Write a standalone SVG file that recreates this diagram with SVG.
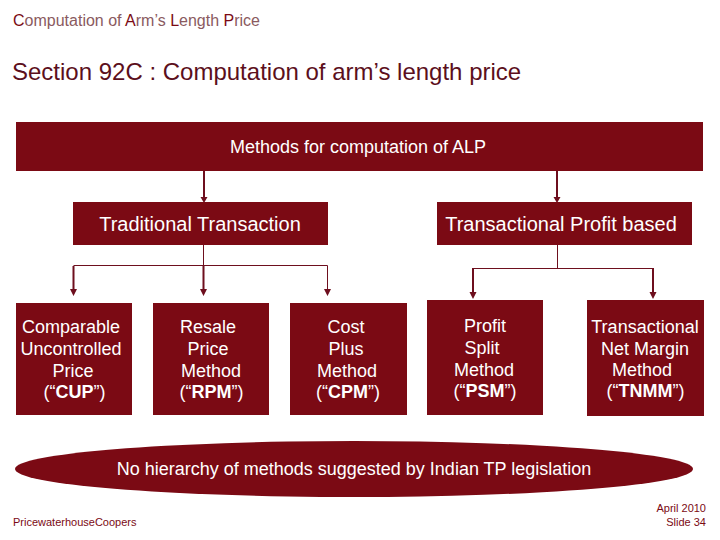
<svg xmlns="http://www.w3.org/2000/svg" width="720" height="540" viewBox="0 0 720 540">
<style>
text{font-family:"Liberation Sans",Arial,sans-serif}
.b{fill:#7b0a14}
.w{fill:#fff;font-size:18px;text-anchor:middle}
.w2{fill:#fff;font-size:20px;text-anchor:middle}
.c{fill:none;stroke:#6e0f1e;stroke-width:1}
.t{fill:none;stroke:#6e0f1e;stroke-width:2}
.h{fill:#6e0f1e}
.k{font-weight:bold}
.cap{fill:#7b0a14}
</style>
<rect width="720" height="540" fill="#fff"/>
<text x="13" y="26" font-size="16" fill="#8a5a60" id="header"><tspan class="cap">C</tspan>omputation of <tspan class="cap">A</tspan>rm’s <tspan class="cap">L</tspan>ength <tspan class="cap">P</tspan>rice</text>
<text x="12" y="80" font-size="24" fill="#5c0f1c" id="title">Section 92C : Computation of arm’s length price</text>
<g id="connectors">
<path class="t" d="M204 171V199M557 171V199M73.500 266V290M203.500 266V290"/>
<path class="c" d="M203.500 245V265.500M73.500 265.500H327.500V293M557.500 245V268M473 268.500H653"/>
<path class="t" d="M473 268V293M653 268V293"/>
<path class="h" d="M200.500 197H207.500L204 203ZM553.500 197H560.500L557 203ZM70 289H77L73.500 296ZM200 289H207L203.500 296ZM324 289H331L327.500 296ZM469.500 292H476.500L473 299ZM649.500 292H656.500L653 299Z"/>
</g>
<g id="root"><rect class="b" x="16" y="122" width="687" height="49"/><text class="w" x="358" y="153">Methods for computation of ALP</text></g>
<g id="traditional"><rect class="b" x="73" y="202" width="255" height="43"/><text class="w2" x="200" y="231">Traditional Transaction</text></g>
<g id="profit"><rect class="b" x="437" y="202" width="255" height="43"/><text class="w2" x="561" y="231">Transactional Profit based</text></g>
<g id="cup"><rect class="b" x="16" y="303" width="116" height="112"/><text class="w" x="71" y="333">Comparable</text><text class="w" x="71" y="355">Uncontrolled</text><text class="w" x="73" y="377">Price</text><text class="w" x="74.500" y="398">(“<tspan class="k">CUP</tspan>”)</text></g>
<g id="rpm"><rect class="b" x="153" y="303" width="116" height="112"/><text class="w" x="208" y="333">Resale</text><text class="w" x="208" y="355">Price</text><text class="w" x="211" y="377">Method</text><text class="w" x="211.500" y="398">(“<tspan class="k">RPM</tspan>”)</text></g>
<g id="cpm"><rect class="b" x="290" y="303" width="117" height="112"/><text class="w" x="346" y="333">Cost</text><text class="w" x="346" y="355">Plus</text><text class="w" x="347" y="377">Method</text><text class="w" x="348" y="398">(“<tspan class="k">CPM</tspan>”)</text></g>
<g id="psm"><rect class="b" x="427" y="300" width="116" height="115"/><text class="w" x="485" y="332">Profit</text><text class="w" x="482" y="354">Split</text><text class="w" x="484" y="376">Method</text><text class="w" x="485" y="397">(“<tspan class="k">PSM</tspan>”)</text></g>
<g id="tnmm"><rect class="b" x="587" y="300" width="117" height="116"/><text class="w" x="645" y="333">Transactional</text><text class="w" x="645" y="355">Net Margin</text><text class="w" x="642" y="376">Method</text><text class="w" x="645.500" y="397">(“<tspan class="k">TNMM</tspan>”)</text></g>
<g id="note"><ellipse class="b" cx="354" cy="469" rx="339" ry="28"/><text class="w" x="354" y="475">No hierarchy of methods suggested by Indian TP legislation</text></g>
<text x="13" y="526" font-size="11" fill="#7b0a14" id="footer">PricewaterhouseCoopers</text>
<text x="706" y="512" font-size="11" fill="#7b0a14" text-anchor="end">April 2010</text>
<text x="706" y="526" font-size="11" fill="#7b0a14" text-anchor="end">Slide 34</text>
</svg>
